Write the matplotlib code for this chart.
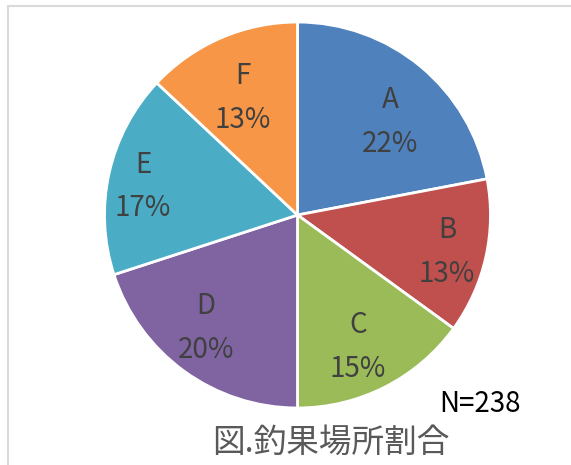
import matplotlib
matplotlib.use("Agg")
import matplotlib.pyplot as plt
import numpy as np
from matplotlib.patches import Rectangle
from matplotlib.transforms import offset_copy

plt.rcParams['font.family'] = ['Noto Sans CJK JP', 'DejaVu Sans']

# data
categories = ["A", "B", "C", "D", "E", "F"]
shares = [22, 13, 15, 20, 17, 13]
colors = ["#4F81BD", "#C0504D", "#9BBB59", "#8064A2", "#4BACC6", "#F79646"]
n_total = 238
title = "図.釣果場所割合"

# label placement, like Excel's "best fit": distance (fraction of radius) + small pixel nudge
label_dist = [0.68, 0.80, 0.735, 0.735, 0.82, 0.69]
label_nudge = [(9, 8), (-1, 3), (-4, 6), (-8, -2), (0, 6), (-2, 5)]

fig = plt.figure(figsize=(5.71, 4.65), dpi=100)
# light frame around the chart area (cut off at right/bottom)
fig.patches.append(Rectangle((8 / 571, -0.1), 1.2, 1 - 6 / 465 + 0.1, transform=fig.transFigure,
                             fill=False, ec="#d9d9d9", lw=1.5))

ax = fig.add_axes([0.183, 0.1226, 0.676, 0.830])
wedges, _ = ax.pie(shares, colors=colors, startangle=90, counterclock=False,
                   wedgeprops=dict(edgecolor="white", linewidth=2))
for w, c, s, d, (nx, ny) in zip(wedges, categories, shares, label_dist, label_nudge):
    ang = np.deg2rad((w.theta1 + w.theta2) / 2)
    tr = offset_copy(ax.transData, fig=fig, x=nx, y=-ny, units="dots")
    ax.text(d * np.cos(ang), d * np.sin(ang), f"{c}\n{s}%", ha="center", va="center",
            color="#404040", fontsize=20, linespacing=1.6, transform=tr)
ax.set_xlim(-1, 1)
ax.set_ylim(-1, 1)
ax.set_aspect("equal")

fig.text(480 / 571, 1 - 404 / 465, f"N={n_total}", ha="center", va="center", fontsize=20, color="black")
fig.text(331 / 571, 1 - 443 / 465, title, ha="center", va="center", fontsize=23.5, color="#595959")

fig.savefig("out.png", dpi=100)
